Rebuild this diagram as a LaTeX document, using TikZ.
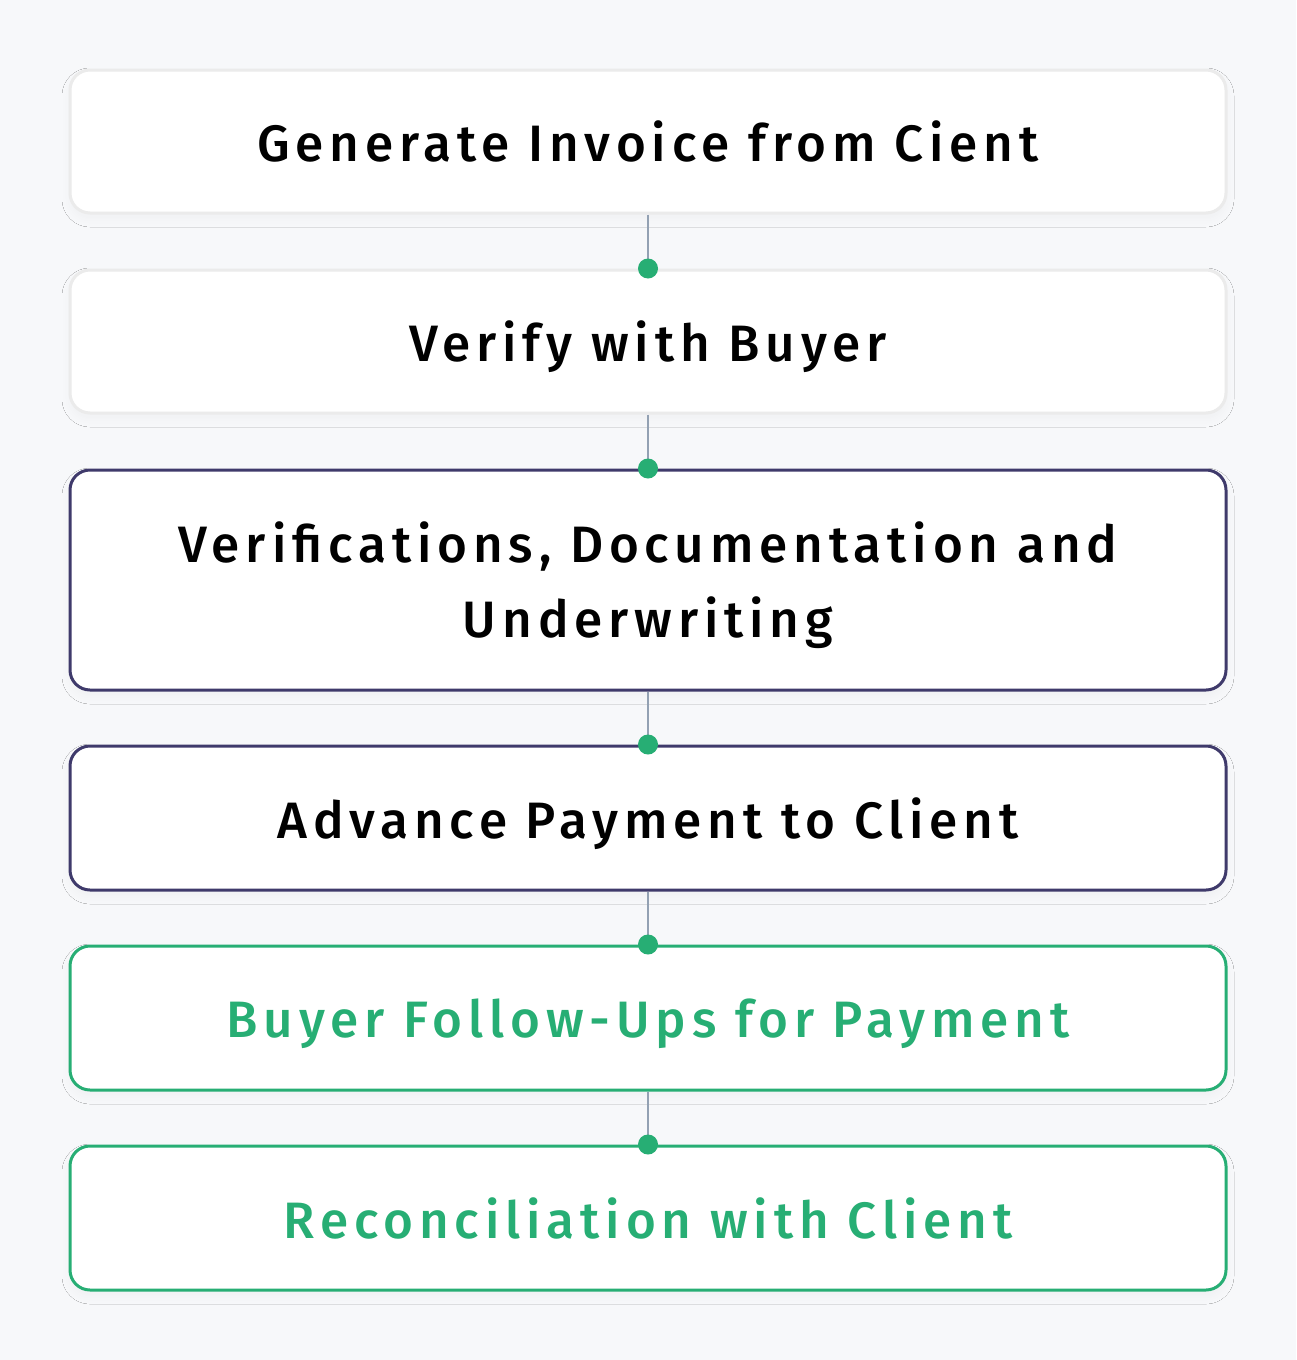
\documentclass[tikz,border=0pt]{standalone}
\usepackage{fontspec}
\setmainfont{Fira Sans}[BoldFont={Fira Sans Medium}]
\usetikzlibrary{shadows.blur}
\definecolor{pagebg}{HTML}{F7F8FA}
\definecolor{softline}{HTML}{EBEBEB}
\definecolor{navy}{HTML}{3F3A6B}
\definecolor{leaf}{HTML}{27AE74}
\definecolor{linkgray}{HTML}{93A1B3}
\tikzset{
    stepcard/.style={draw, line width=1.5pt, fill=white, rounded corners=10pt,
        minimum width=578pt, align=center, text depth=0pt,
        font=\fontsize{25.6}{37.5}\selectfont\bfseries\addfontfeature{LetterSpace=11.5},
        blur shadow={shadow xshift=0pt, shadow yshift=-3pt, shadow blur radius=4pt, shadow blur steps=8, shadow opacity=3}},
    plaincard/.style={stepcard, draw=softline, text=black},
    navycard/.style={stepcard, draw=navy, text=black},
    leafcard/.style={stepcard, draw=leaf, text=leaf},
    link/.style={linkgray, line width=0.8pt},
    pin/.style={circle, fill=leaf, inner sep=0pt, minimum size=10pt}
}

\begin{document}
\begin{tikzpicture}[x=0.5pt, y=-0.5pt]
    \fill[pagebg] (0,0) rectangle (1296,1360);
    \useasboundingbox (0,0) rectangle (1296,1360);
    \node[plaincard, minimum height=71.5pt] (invoice) at (648,141.5) {Generate Invoice from Cient};
    \node[plaincard, minimum height=71.5pt] (verify) at (648,341.5) {Verify with Buyer};
    \node[navycard, minimum height=110pt] (underwrite) at (648,580) {Verifications, Documentation and\\Underwriting};
    \node[navycard, minimum height=72pt] (advance) at (648,818) {Advance Payment to Client};
    \node[leafcard, minimum height=72pt] (followup) at (648,1018) {Buyer Follow-Ups for Payment};
    \node[leafcard, minimum height=72pt] (reconcile) at (648,1218) {Reconciliation with Client};
    % connectors
    \foreach \a/\b in {invoice/verify, verify/underwrite, underwrite/advance, advance/followup, followup/reconcile} {
        \draw[link] (\a.south) -- (\b.north);
        \node[pin] (pin-\b) at (\b.north) {};
    }
\end{tikzpicture}
\end{document}
